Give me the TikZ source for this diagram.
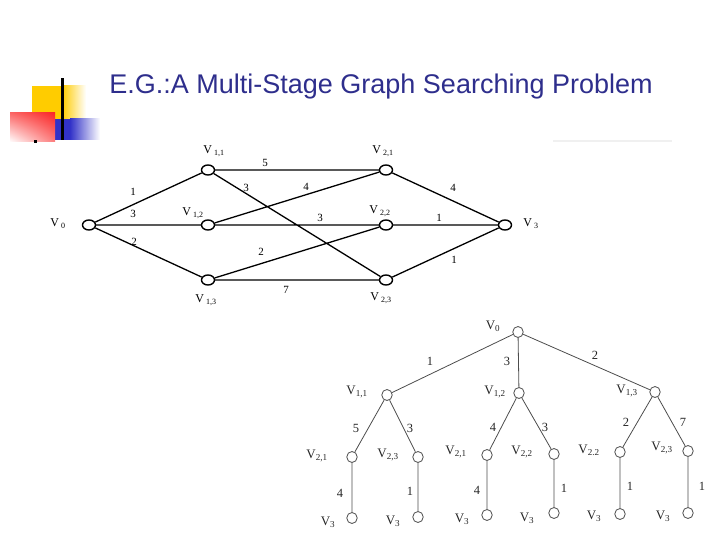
\documentclass[tikz,border=0pt]{standalone}
\usepackage{fontspec}
\setmainfont{Liberation Serif}
\newfontfamily\titlefont{Liberation Sans}
\usetikzlibrary{shapes.geometric,shadings}

\definecolor{titleblue}{RGB}{46,46,140}
\definecolor{decoyellow}{RGB}{255,204,0}
\definecolor{decored}{RGB}{250,40,40}
\definecolor{decoblue}{RGB}{50,50,200}

\begin{document}
\begin{tikzpicture}[x=1pt,y=-1pt,
    vtx/.style={ellipse,draw,line width=1.4pt,fill=white,minimum width=13pt,minimum height=10pt,inner sep=0pt},
    tvtx/.style={ellipse,draw=black!70,line width=0.8pt,fill=white,minimum width=10.5pt,minimum height=11pt,inner sep=0pt},
    edge/.style={line width=1.3pt},
    tedge/.style={draw=black!70,line width=0.8pt},
    lab/.style={font=\fontsize{12}{12}\selectfont,inner sep=0pt},
    tlab/.style={font=\fontsize{13}{13}\selectfont,inner sep=0pt,text=black!85},
    wt/.style={font=\fontsize{11}{11}\selectfont,inner sep=0pt},
    twt/.style={font=\fontsize{12.5}{12.5}\selectfont,inner sep=0pt,text=black!85}]

\useasboundingbox (0,0) rectangle (720,540);

% corner decoration
\fill[decoyellow] (32,86) rectangle (62,119);
\shade[left color=decoyellow,right color=white] (62,86) rectangle (86,119);
\fill[decoblue] (55,119) rectangle (70,140);
\shade[left color=decoblue,right color=white] (70,119) rectangle (100,140);
\shade[upper left=decored!70,upper right=decored,lower right=decored!60,lower left=white] (10,113) rectangle (55,142);
\fill (61,78) rectangle (63.5,140);
\fill (33.5,140) rectangle (36.5,143);
\draw[black!6,line width=1.5pt] (553,141) -- (672,141);

\node[font=\titlefont\fontsize{27}{27}\selectfont,text=titleblue] (title) at (381,87) {E.G.:A Multi-Stage Graph Searching Problem};

% multi-stage graph
\foreach \n/\x/\y in {a0/89/225, a11/208/170, a12/208/225, a13/208/280,
                      a21/386/170, a22/386/225, a23/386/280, a3/505/225}
    \node[vtx] (\n) at (\x,\y) {};

\draw[edge] (a0) -- (a11) (a0) -- (a12) (a0) -- (a13)
            (a11) -- (a21) (a11) -- (a23)
            (a12) -- (a21) (a12) -- (a22)
            (a13) -- (a22) (a13) -- (a23)
            (a21) -- (a3) (a22) -- (a3) (a23) -- (a3);

\foreach \n/\x/\y/\t in {la0/58/224/0, la11/214/151/{1,1}, la12/193/213/{1,2}, la13/206/300/{1,3},
                         la21/383/151/{2,1}, la22/380/211/{2,2}, la23/381/298/{2,3}, la3/531/224/3}
    \node[lab] (\n) at (\x,\y) {V\,\textsubscript{\t}};

\node[wt] (w1) at (133,192) {1};
\node[wt] (w2) at (133,214) {3};
\node[wt] (w3) at (134,242) {2};
\node[wt] (w4) at (265,163) {5};
\node[wt] (w5) at (246,188) {3};
\node[wt] (w6) at (306,187) {4};
\node[wt] (w7) at (320,218) {3};
\node[wt] (w8) at (261,252) {2};
\node[wt] (w9) at (286,290) {7};
\node[wt] (w10) at (453,188) {4};
\node[wt] (w11) at (439,218) {1};
\node[wt] (w12) at (454,260) {1};

% search tree
\foreach \n/\x/\y in {t0/518/332, t11/387/395, t12/519/393, t13/655/392,
                      t21a/352/457, t23a/418/457, t21b/487/455, t22b/554/454, t22c/620/452, t23c/688/451,
                      t3a/352/518, t3b/418/517, t3c/487/515, t3d/554/513, t3e/620/514, t3f/688/513}
    \node[tvtx] (\n) at (\x,\y) {};

\draw[tedge] (t0) -- (t11) (t0) -- (t12) (t0) -- (t13)
             (t11) -- (t21a) (t11) -- (t23a)
             (t12) -- (t21b) (t12) -- (t22b)
             (t13) -- (t22c) (t13) -- (t23c)
             (t21a) -- (t3a) (t23a) -- (t3b) (t21b) -- (t3c)
             (t22b) -- (t3d) (t22c) -- (t3e) (t23c) -- (t3f);

\foreach \n/\x/\y/\t in {s0/493/326/0, s11/357/392/{1,1}, s12/495/392/{1,2}, s13/627/391/{1,3},
                         s21a/317/456/{2,1}, s23a/388/455/{2,3}, s21b/456/452/{2,1}, s22b/522/452/{2,2},
                         s22c/589/450/{2.2}, s23c/662/448/{2,3},
                         s3a/328/522/3, s3b/393/521/3, s3c/462/519/3, s3d/527/518/3, s3e/594/516/3, s3f/663/516/3}
    \node[tlab] (\n) at (\x,\y) {V\textsubscript{\t}};

\node[twt] (u1) at (430,361) {1};
\node[twt] (u2) at (507,361) {3};
\node[twt] (u3) at (595,355) {2};
\node[twt] (u4) at (356,428) {5};
\node[twt] (u5) at (410,428) {3};
\node[twt] (u6) at (493,427) {4};
\node[twt] (u7) at (545,427) {3};
\node[twt] (u8) at (626,422) {2};
\node[twt] (u9) at (683,422) {7};
\node[twt] (u10) at (340,493) {4};
\node[twt] (u11) at (410,491) {1};
\node[twt] (u12) at (477,490) {4};
\node[twt] (u13) at (564,488) {1};
\node[twt] (u14) at (630,486) {1};
\node[twt] (u15) at (702,486) {1};

\end{tikzpicture}
\end{document}
